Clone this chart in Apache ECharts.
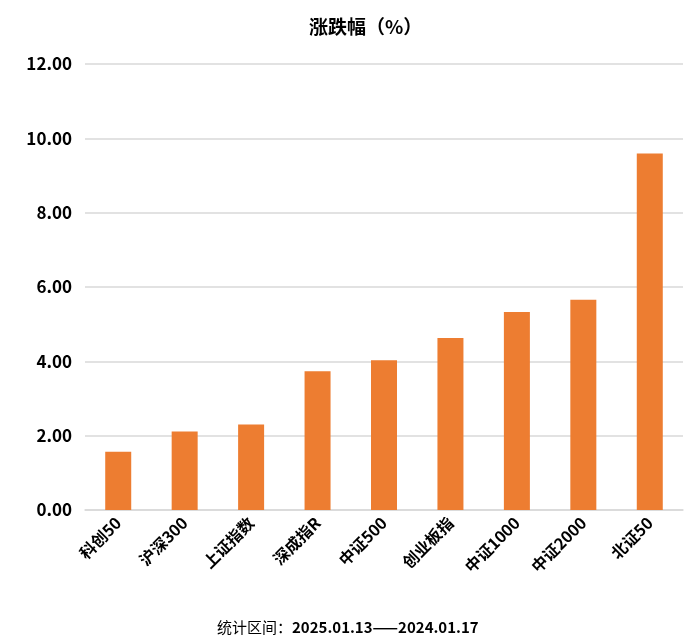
<!DOCTYPE html>
<html>
<head>
<meta charset="utf-8">
<script src="https://cdn.jsdelivr.net/npm/echarts@6/dist/echarts.min.js"></script>
<style>
  html, body { margin: 0; padding: 0; background: #fff; }
  #chart { width: 700px; height: 641px; }
</style>
</head>
<body>
<div id="chart"></div>
<script>
// 指数名称
const categories = ['科创50', '沪深300', '上证指数', '深成指R', '中证500', '创业板指', '中证1000', '中证2000', '北证50']
// 涨跌幅（%）
const changes = [1.57, 2.11, 2.30, 3.73, 4.03, 4.63, 5.33, 5.66, 9.59]
const yTicks = { min: 0, max: 12, interval: 2 }

const font = '"Noto Sans CJK SC", "Noto Sans", sans-serif'
const chart = echarts.init(document.getElementById('chart'))

chart.setOption({
    animation: false,
    title: [{
        text: '涨跌幅（%）',
        left: 304,
        top: 12,
        textStyle: { fontFamily: font, fontSize: 19, fontWeight: 'bold', color: '#000' }
    }, {
        text: '{a|统计区间：}{b|2025.01.13——2024.01.17}',
        left: 212,
        top: 615,
        textStyle: {
            rich: {
                a: { fontFamily: font, fontSize: 15, fontWeight: 'normal', color: '#000' },
                b: { fontFamily: font, fontSize: 15, fontWeight: 'bold', color: '#000' }
            }
        }
    }],
    grid: { left: 85, right: 17, top: 64, bottom: 131 },
    xAxis: {
        type: 'category',
        data: categories,
        axisLine: { lineStyle: { color: '#d9d9d9', width: 1.5 } },
        axisTick: { show: false },
        axisLabel: {
            interval: 0,
            rotate: 45,
            margin: 10,
            fontFamily: font,
            fontSize: 16,
            fontWeight: 'bold',
            color: '#000'
        }
    },
    yAxis: {
        type: 'value',
        min: yTicks.min,
        max: yTicks.max,
        interval: yTicks.interval,
        axisLine: { show: false },
        axisTick: { show: false },
        splitLine: { lineStyle: { color: '#d9d9d9', width: 1.5 } },
        axisLabel: {
            margin: 13,
            fontFamily: font,
            fontSize: 17,
            fontWeight: 'bold',
            color: '#000',
            formatter: v => v.toFixed(2)
        }
    },
    series: [{
        type: 'bar',
        data: changes,
        barWidth: 26,
        itemStyle: { color: '#ed7d31' }
    }]
})
</script>
</body>
</html>
